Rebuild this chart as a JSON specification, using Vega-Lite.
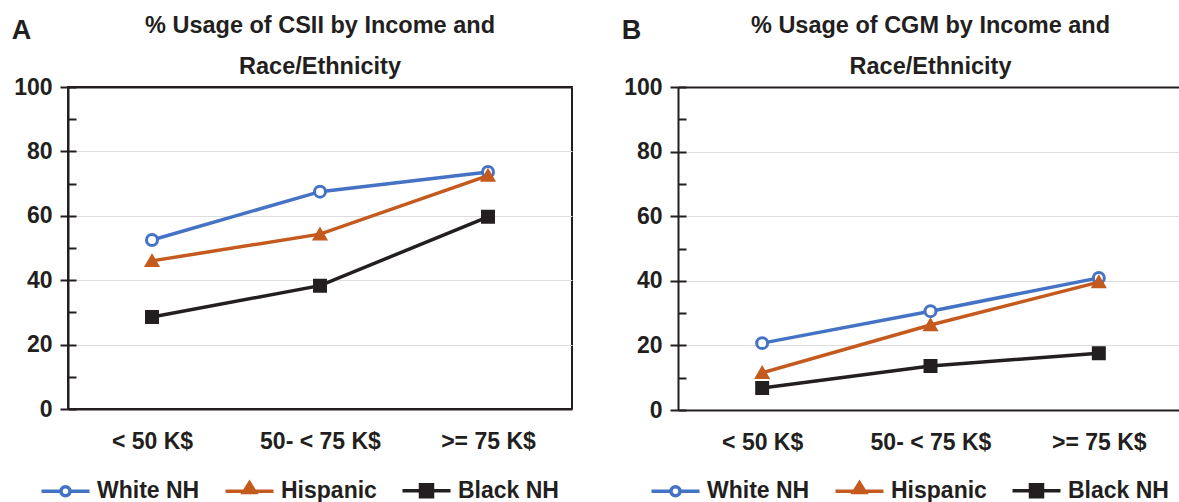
{
  "$schema": "https://vega.github.io/schema/vega-lite/v6.json",
  "background": "white",
  "padding": {"left": 10, "top": 12, "right": 0, "bottom": 0},
  "spacing": 48,
  "datasets": {
    "csii": [
      {"income": "< 50 K$", "series": "White NH", "value": 52.5},
      {"income": "50- < 75 K$", "series": "White NH", "value": 67.5},
      {"income": ">= 75 K$", "series": "White NH", "value": 73.6},
      {"income": "< 50 K$", "series": "Hispanic", "value": 46.0},
      {"income": "50- < 75 K$", "series": "Hispanic", "value": 54.3},
      {"income": ">= 75 K$", "series": "Hispanic", "value": 72.5},
      {"income": "< 50 K$", "series": "Black NH", "value": 28.6},
      {"income": "50- < 75 K$", "series": "Black NH", "value": 38.3},
      {"income": ">= 75 K$", "series": "Black NH", "value": 59.7}
    ],
    "cgm": [
      {"income": "< 50 K$", "series": "White NH", "value": 20.7},
      {"income": "50- < 75 K$", "series": "White NH", "value": 30.6},
      {"income": ">= 75 K$", "series": "White NH", "value": 40.9},
      {"income": "< 50 K$", "series": "Hispanic", "value": 11.5},
      {"income": "50- < 75 K$", "series": "Hispanic", "value": 26.3},
      {"income": ">= 75 K$", "series": "Hispanic", "value": 39.6},
      {"income": "< 50 K$", "series": "Black NH", "value": 6.8},
      {"income": "50- < 75 K$", "series": "Black NH", "value": 13.6},
      {"income": ">= 75 K$", "series": "Black NH", "value": 17.6}
    ]
  },
  "config": {
    "font": "Liberation Sans",
    "view": {"stroke": "#231f20", "strokeWidth": 2},
    "axis": {
      "labelFont": "Liberation Sans", "labelFontWeight": "bold", "labelFontSize": 23, "labelColor": "#231f20",
      "domainColor": "#231f20", "domainWidth": 2, "tickColor": "#231f20", "tickWidth": 2,
      "gridColor": "#dddddd", "gridWidth": 1.2
    },
    "title": {"font": "Liberation Sans", "fontSize": 23.5, "fontWeight": "bold", "color": "#231f20", "lineHeight": 41, "frame": "group", "anchor": "middle"},
    "legend": {"labelFont": "Liberation Sans", "labelFontSize": 23, "labelFontWeight": "bold", "labelColor": "#231f20"}
  },
  "resolve": {"legend": {"color": "independent"}},
  "hconcat": [
    {
      "data": {"name": "csii"},
      "width": 504,
      "height": 322,
      "title": {"text": ["% Usage of CSII by Income and", "Race/Ethnicity"], "offset": -62},
      "layer": [
        {
          "mark": {"type": "line", "strokeWidth": 3.5},
          "encoding": {
            "x": {"field": "income", "type": "ordinal", "sort": ["< 50 K$", "50- < 75 K$", ">= 75 K$"],
                  "axis": {"orient": "bottom", "title": null, "ticks": false, "labelPadding": 21, "labelAngle": 0, "grid": false, "domain": true}},
            "y": {"field": "value", "type": "quantitative", "scale": {"domain": [0, 100], "nice": false},
                  "axis": {"orient": "left", "values": [0, 20, 40, 60, 80, 100], "tickSize": 8, "labelPadding": 8, "grid": true,
                           "title": "A", "titleAngle": 0, "titleX": -47, "titleY": -57, "titleAlign": "center", "titleBaseline": "middle",
                           "titleFontSize": 27, "titleFontWeight": "bold", "titleColor": "#231f20", "titleFont": "Liberation Sans"}},
            "color": {"field": "series", "type": "nominal",
                      "scale": {"domain": ["White NH", "Hispanic", "Black NH"], "range": ["#4472c4", "#c55a1e", "#231f20"]},
                      "legend": {
                        "orient": "none", "legendX": 2, "legendY": 392, "direction": "horizontal", "title": null,
                        "symbolSize": 256, "symbolStrokeWidth": 3.5, "labelOffset": 4, "columnPadding": 18,
                        "encode": {"symbols": {"update": {
                          "shape": {"signal": "datum.value === 'White NH' ? 'M-5,0H-2.56M-1.44,0H1M-1.44,0A0.56,0.56,0,1,1,-2.56,0A0.56,0.56,0,1,1,-1.44,0Z' : datum.value === 'Hispanic' ? 'M-5,0H1M-2.75,0.15L-2,-1.05L-1.25,0.15Z' : 'M-5,0H1M-2.75,-0.75H-1.25V0.75H-2.75Z'"},
                          "fill": {"signal": "datum.value === 'White NH' ? '#ffffff' : datum.value === 'Hispanic' ? '#c55a1e' : '#231f20'"},
                          "stroke": {"signal": "datum.value === 'White NH' ? '#4472c4' : datum.value === 'Hispanic' ? '#c55a1e' : '#231f20'"},
                          "size": {"value": 256}, "strokeWidth": {"value": 3.5}, "opacity": {"value": 1}
                        }}}
                      }}
          }
        },
        {
          "mark": {"type": "point", "filled": true, "opacity": 1, "size": 120, "strokeWidth": 3},
          "encoding": {
            "x": {"field": "income", "type": "ordinal", "sort": ["< 50 K$", "50- < 75 K$", ">= 75 K$"],
                  "axis": {"orient": "top", "title": null, "labels": false, "ticks": false, "grid": false, "domain": true}},
            "y": {"field": "value", "type": "quantitative", "scale": {"domain": [0, 100], "nice": false},
                  "axis": {"orient": "left", "values": [0, 10, 20, 30, 40, 50, 60, 70, 80, 90, 100], "tickSize": -8, "labels": false, "grid": false, "domain": false, "title": null}},
            "shape": {"field": "series", "type": "nominal", "scale": {"domain": ["White NH", "Hispanic", "Black NH"], "range": ["circle", "triangle-up", "square"]}, "legend": null},
            "fill": {"field": "series", "type": "nominal", "scale": {"domain": ["White NH", "Hispanic", "Black NH"], "range": ["#ffffff", "#c55a1e", "#231f20"]}, "legend": null},
            "stroke": {"field": "series", "type": "nominal", "scale": {"domain": ["White NH", "Hispanic", "Black NH"], "range": ["#4472c4", "#c55a1e", "#231f20"]}, "legend": null}
          }
        }
      ],
      "resolve": {"axis": {"x": "independent", "y": "independent"}}
    },
    {
      "data": {"name": "cgm"},
      "width": 505,
      "height": 323,
      "view": {"stroke": null},
      "title": {"text": ["% Usage of CGM by Income and", "Race/Ethnicity"], "offset": -62},
      "layer": [
        {
          "mark": {"type": "line", "strokeWidth": 3.5},
          "encoding": {
            "x": {"field": "income", "type": "ordinal", "sort": ["< 50 K$", "50- < 75 K$", ">= 75 K$"],
                  "axis": {"orient": "bottom", "title": null, "ticks": false, "labelPadding": 21, "labelAngle": 0, "grid": false, "domain": true}},
            "y": {"field": "value", "type": "quantitative", "scale": {"domain": [0, 100], "nice": false},
                  "axis": {"orient": "left", "values": [0, 20, 40, 60, 80, 100], "tickSize": 8, "labelPadding": 8, "grid": true,
                           "title": "B", "titleAngle": 0, "titleX": -47, "titleY": -57, "titleAlign": "center", "titleBaseline": "middle",
                           "titleFontSize": 27, "titleFontWeight": "bold", "titleColor": "#231f20", "titleFont": "Liberation Sans"}},
            "color": {"field": "series", "type": "nominal",
                      "scale": {"domain": ["White NH", "Hispanic", "Black NH"], "range": ["#4472c4", "#c55a1e", "#231f20"]},
                      "legend": {
                        "orient": "none", "legendX": 2, "legendY": 392, "direction": "horizontal", "title": null,
                        "symbolSize": 256, "symbolStrokeWidth": 3.5, "labelOffset": 4, "columnPadding": 18,
                        "encode": {"symbols": {"update": {
                          "shape": {"signal": "datum.value === 'White NH' ? 'M-5,0H-2.56M-1.44,0H1M-1.44,0A0.56,0.56,0,1,1,-2.56,0A0.56,0.56,0,1,1,-1.44,0Z' : datum.value === 'Hispanic' ? 'M-5,0H1M-2.75,0.15L-2,-1.05L-1.25,0.15Z' : 'M-5,0H1M-2.75,-0.75H-1.25V0.75H-2.75Z'"},
                          "fill": {"signal": "datum.value === 'White NH' ? '#ffffff' : datum.value === 'Hispanic' ? '#c55a1e' : '#231f20'"},
                          "stroke": {"signal": "datum.value === 'White NH' ? '#4472c4' : datum.value === 'Hispanic' ? '#c55a1e' : '#231f20'"},
                          "size": {"value": 256}, "strokeWidth": {"value": 3.5}, "opacity": {"value": 1}
                        }}}
                      }}
          }
        },
        {
          "mark": {"type": "point", "filled": true, "opacity": 1, "size": 120, "strokeWidth": 3},
          "encoding": {
            "x": {"field": "income", "type": "ordinal", "sort": ["< 50 K$", "50- < 75 K$", ">= 75 K$"],
                  "axis": {"orient": "top", "title": null, "labels": false, "ticks": false, "grid": false, "domain": true}},
            "y": {"field": "value", "type": "quantitative", "scale": {"domain": [0, 100], "nice": false},
                  "axis": {"orient": "left", "values": [0, 10, 20, 30, 40, 50, 60, 70, 80, 90, 100], "tickSize": -8, "labels": false, "grid": false, "domain": false, "title": null}},
            "shape": {"field": "series", "type": "nominal", "scale": {"domain": ["White NH", "Hispanic", "Black NH"], "range": ["circle", "triangle-up", "square"]}, "legend": null},
            "fill": {"field": "series", "type": "nominal", "scale": {"domain": ["White NH", "Hispanic", "Black NH"], "range": ["#ffffff", "#c55a1e", "#231f20"]}, "legend": null},
            "stroke": {"field": "series", "type": "nominal", "scale": {"domain": ["White NH", "Hispanic", "Black NH"], "range": ["#4472c4", "#c55a1e", "#231f20"]}, "legend": null}
          }
        }
      ],
      "resolve": {"axis": {"x": "independent", "y": "independent"}}
    }
  ]
}
